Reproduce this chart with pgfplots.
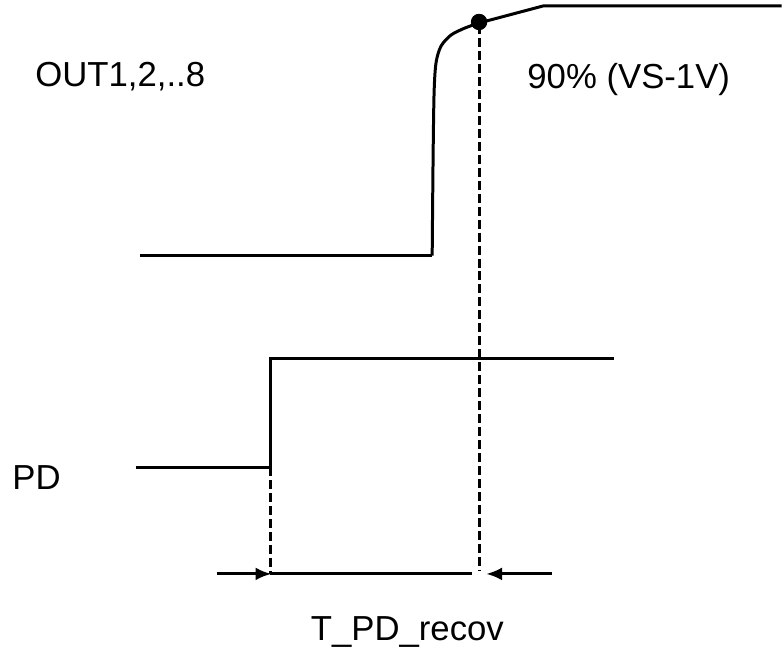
\documentclass[border=0pt]{standalone}
\usepackage{pgfplots}
\pgfplotsset{compat=1.18}
\usepackage{fontspec}
\setmainfont{Liberation Sans}
\usetikzlibrary{arrows.meta}
\begin{document}
\begin{tikzpicture}
\begin{axis}[
  width=391.5pt, height=327.5pt, scale only axis,
  xmin=0, xmax=783, ymin=0, ymax=655, y dir=reverse,
  hide axis, clip=false,
]
\path (axis cs:0,0) rectangle (axis cs:783,655);
% OUT signal
\addplot[black, line width=1.5pt] coordinates {(140,256) (433,256)};
\addplot[black, line width=1.5pt, smooth, tension=0.5] coordinates {
 (433,256) (434,150) (435,90) (437,62) (442,46) (452,35) (466,28) (480,23)};
\addplot[black, line width=1.5pt] coordinates {(480,23) (544,6) (783,6)};
\addplot[black, only marks, mark=*, mark size=3.9pt] coordinates {(480,22)};
% PD signal
\addplot[black, line width=1.5pt] coordinates {
 (136,468) (271,468) (271,359) (615,359)};
% dashed
\addplot[black, line width=1.5pt, dash pattern=on 4.5pt off 2pt] coordinates {(271,468) (271,575)};
\addplot[black, line width=1.5pt, dash pattern=on 4.5pt off 2pt] coordinates {(480,25) (480,572)};
% arrows
\addplot[black, line width=1.5pt, -{Latex[length=8pt,width=6.5pt]}] coordinates {(217,575) (272,575)};
\addplot[black, line width=1.5pt] coordinates {(271,575) (473,575)};
\addplot[black, line width=1.5pt, -{Latex[length=8pt,width=6.5pt]}] coordinates {(553,575) (487,575)};
% labels
\node[font=\fontsize{17.4}{20}\selectfont, anchor=base west, inner sep=0pt] at (axis cs:35,87) {OUT1,2,..8};
\node[font=\fontsize{17.4}{20}\selectfont, anchor=base west, inner sep=0pt] at (axis cs:528,89) {90\% (VS-1V)};
\node[font=\fontsize{17.4}{20}\selectfont, anchor=base west, inner sep=0pt] at (axis cs:12,490) {PD};
\node[font=\fontsize{17.4}{20}\selectfont, anchor=base west, inner sep=0pt] at (axis cs:311,642) {T\_PD\_recov};
\end{axis}
\end{tikzpicture}
\end{document}
